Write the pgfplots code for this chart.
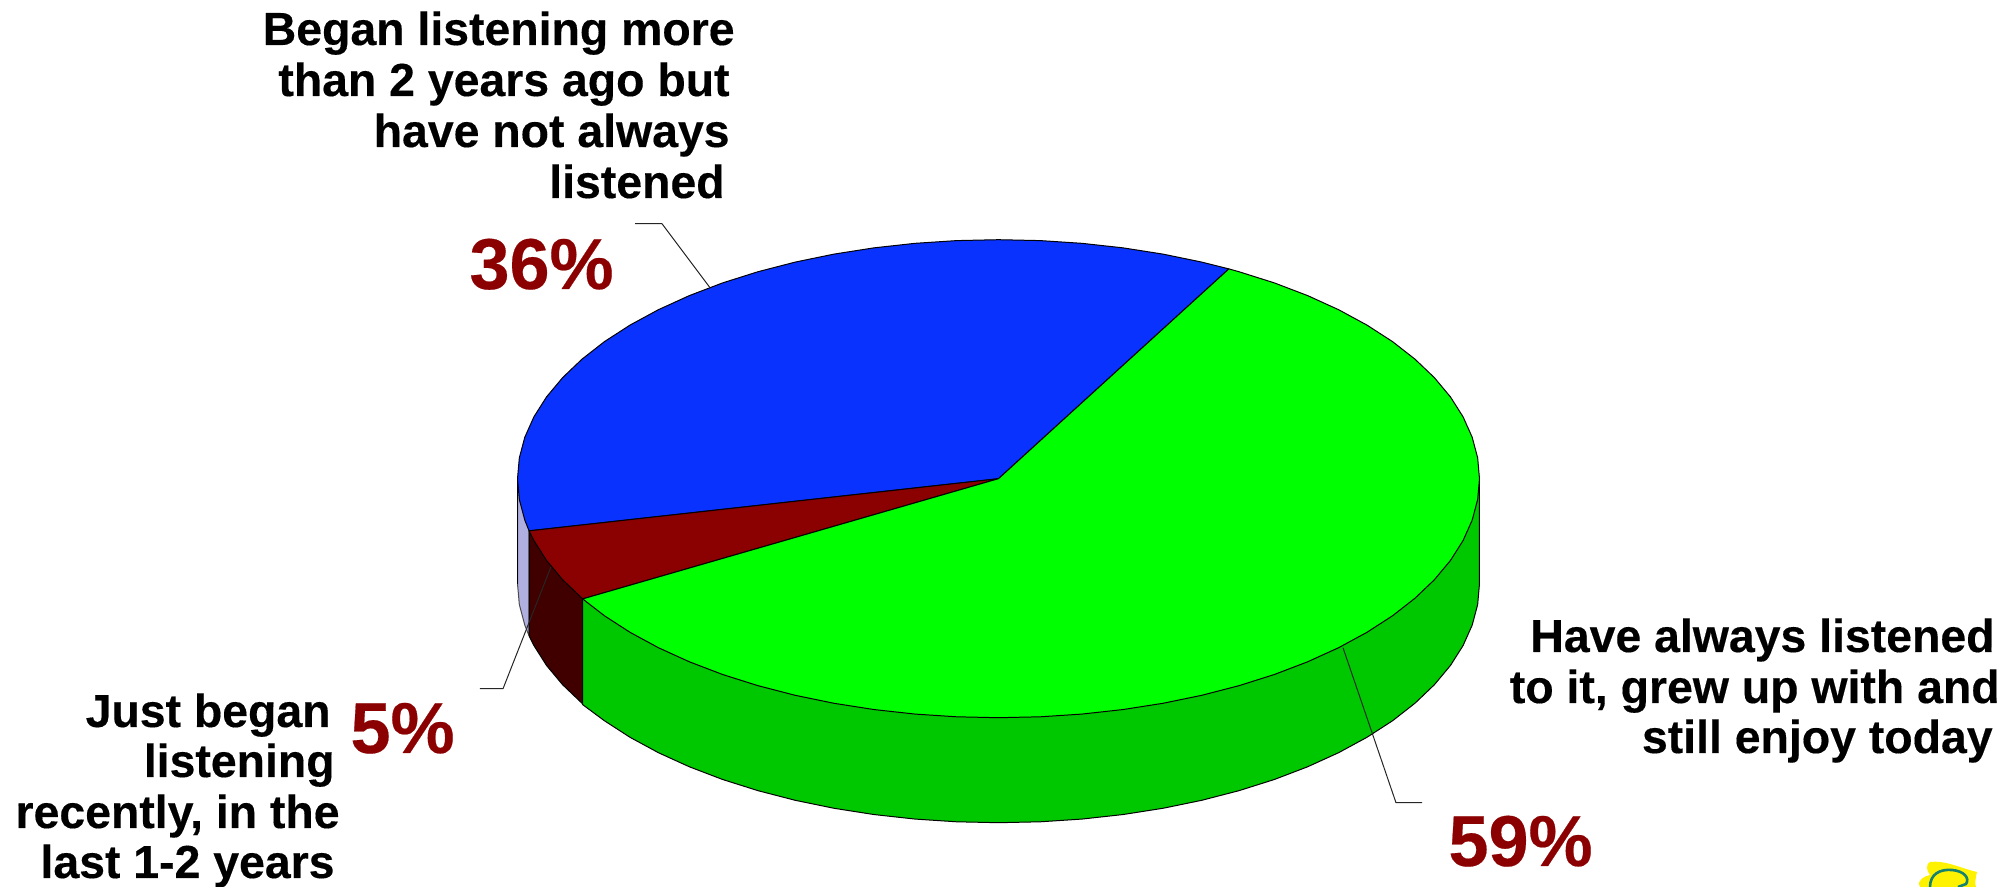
\documentclass[border=0pt]{standalone}
\usepackage{pgfplots}
\pgfplotsset{compat=1.18}
\usepackage{fontspec}
\setmainfont[BoldFeatures={FakeBold=0.3}]{Liberation Sans}
\definecolor{topgreen}{RGB}{0,255,0}
\definecolor{sidegreen}{RGB}{0,200,0}
\definecolor{topblue}{RGB}{10,50,255}
\definecolor{topred}{RGB}{139,0,0}
\definecolor{sidered}{RGB}{64,0,0}
\definecolor{lavender2}{RGB}{176,176,224}
\definecolor{pct}{RGB}{139,0,0}
\definecolor{logoteal}{RGB}{20,130,110}
\newcommand\lab[3]{\node[anchor=base east,inner sep=0pt,font=\bfseries\fontsize{23.2}{26}\selectfont,text=black] at (#1,#2) {#3};}
\newcommand\pc[3]{\node[anchor=base east,inner sep=0pt,font=\bfseries\fontsize{36}{39}\selectfont,text=pct] at (#1,#2) {#3};}
\begin{document}
\begin{tikzpicture}
\path[use as bounding box] (0,0) rectangle (1007.5pt,443.5pt);
\begin{axis}[hide axis,scale only axis,width=1007.5pt,height=443.5pt,
  xmin=-2.0759,xmax=2.1133,ymin=-1.7083,ymax=2.003,
  every axis plot/.append style={line width=0.5pt,line join=round}]
% side walls
\addplot[fill=lavender2,draw=black!70] coordinates {(0,0)(-.9759,-.2181)(-.9759,-.6574)(-.9848,-.6129)(-.9962,-.5265)(-1,-.4393)(-1,0)} -- cycle;
\addplot[fill=sidered,draw=black] coordinates {(0,0)(-.8645,-.5060)(-.8645,-.9453)(-.8660,-.9393)(-.9063,-.8619)(-.9397,-.7813)(-.9659,-.6981)(-.9759,-.6574)(-.9759,-.2181)} -- cycle;
\addplot[fill=sidegreen,draw=black] coordinates {(0,0)(1,0)(1,-.4393)(.9962,-.5265)(.9848,-.6129)(.9659,-.6981)(.9397,-.7813)(.9063,-.8619)(.8660,-.9393)(.8192,-1.0129)(.7660,-1.0821)(.7071,-1.1464)(.6428,-1.2053)(.5736,-1.2585)(.5,-1.3053)(.4226,-1.3456)(.3420,-1.3790)(.2588,-1.4052)(.1736,-1.4241)(.0872,-1.4355)(0,-1.4393)(-.0872,-1.4355)(-.1736,-1.4241)(-.2588,-1.4052)(-.3420,-1.3790)(-.4226,-1.3456)(-.5,-1.3053)(-.5736,-1.2585)(-.6428,-1.2053)(-.7071,-1.1464)(-.7660,-1.0821)(-.8192,-1.0129)(-.8645,-.9453)(-.8645,-.5060)} -- cycle;
\addplot[draw=black,line width=0.8pt] coordinates {(-1,0)(-1,-.4393)};
% top faces
\addplot[fill=topblue,draw=black] coordinates {(0,0)(.4790,.8778)(.4226,.9063)(.3420,.9397)(.2588,.9659)(.1736,.9848)(.0872,.9962)(0,1)(-.0872,.9962)(-.1736,.9848)(-.2588,.9659)(-.3420,.9397)(-.4226,.9063)(-.5,.8660)(-.5736,.8192)(-.6428,.7660)(-.7071,.7071)(-.7660,.6428)(-.8192,.5736)(-.8660,.5)(-.9063,.4226)(-.9397,.3420)(-.9659,.2588)(-.9848,.1736)(-.9962,.0872)(-1,0)(-.9962,-.0872)(-.9848,-.1736)(-.9759,-.2181)} -- cycle;
\addplot[fill=topred,draw=black] coordinates {(0,0)(-.9759,-.2181)(-.9659,-.2588)(-.9397,-.3420)(-.9063,-.4226)(-.8660,-.5)(-.8645,-.5030)} -- cycle;
\addplot[fill=topgreen,draw=black] coordinates {(0,0)(.4790,.8778)(.5,.8660)(.5736,.8192)(.6428,.7660)(.7071,.7071)(.7660,.6428)(.8192,.5736)(.8660,.5)(.9063,.4226)(.9397,.3420)(.9659,.2588)(.9848,.1736)(.9962,.0872)(1,0)(.9962,-.0872)(.9848,-.1736)(.9659,-.2588)(.9397,-.3420)(.9063,-.4226)(.8660,-.5)(.8192,-.5736)(.7660,-.6428)(.7071,-.7071)(.6428,-.7660)(.5736,-.8192)(.5,-.8660)(.4226,-.9063)(.3420,-.9397)(.2588,-.9659)(.1736,-.9848)(.0872,-.9962)(0,-1)(-.0872,-.9962)(-.1736,-.9848)(-.2588,-.9659)(-.3420,-.9397)(-.4226,-.9063)(-.5,-.8660)(-.5736,-.8192)(-.6428,-.7660)(-.7071,-.7071)(-.7660,-.6428)(-.8192,-.5736)(-.8645,-.5030)} -- cycle;
% leader lines
\addplot[draw=black!85] coordinates {(.7162,-.7071)(.8264,-1.3556)(.8805,-1.3556)};
\addplot[draw=black!85] coordinates {(-.9304,-.3682)(-1.0301,-.8787)(-1.0780,-.8787)};
\addplot[draw=black!85] coordinates {(-.5998,.7992)(-.6996,1.0669)(-.7557,1.0669)};
\end{axis}
\begin{scope}[x=0.5pt,y=-0.5pt,shift={(0pt,443.5pt)}]
\lab{735}{45}{Began listening more}
\lab{730}{96}{than 2 years ago but}
\lab{730}{147}{have not always}
\lab{725}{198}{listened}
\lab{331}{727}{Just began}
\lab{335}{777}{listening}
\lab{340}{828}{recently, in the}
\lab{335}{878}{last 1-2 years}
\lab{1995}{652}{Have always listened}
\lab{2000}{703}{to it, grew up with and}
\lab{1993}{753}{still enjoy today}
\pc{614}{289}{36\%}
\pc{455}{753}{5\%}
\pc{1593}{866}{59\%}
% logo fragment, cut off by the lower edge
\fill[yellow] (1930,862) .. controls (1945,860) and (1960,868) .. (1977,872) .. controls (1975,880) and (1975,884) .. (1976,887) -- (1920,887) .. controls (1916,880) and (1925,876) .. (1930,875) .. controls (1926,870) and (1926,864) .. (1930,862) -- cycle;
\draw[logoteal,line width=1.3pt] (1930,887) .. controls (1930,874) and (1940,869) .. (1952,870) .. controls (1964,871) and (1970,878) .. (1966,884) -- (1958,887);
\end{scope}
\end{tikzpicture}
\end{document}
